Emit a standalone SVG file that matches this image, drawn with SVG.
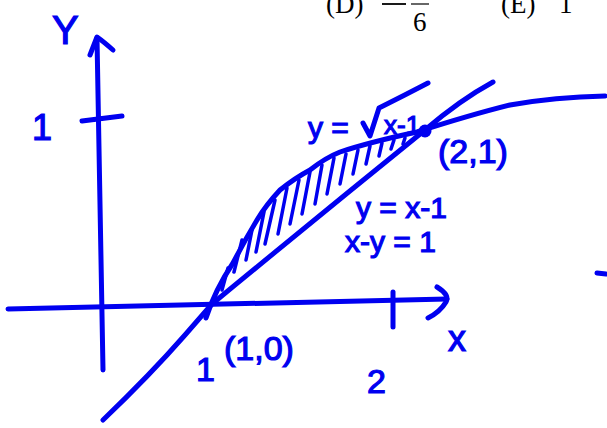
<svg xmlns="http://www.w3.org/2000/svg" width="607" height="428" viewBox="0 0 607 428">
<style>
.s{fill:none;stroke:#0000f0;stroke-width:5;stroke-linecap:round;stroke-linejoin:round}
.h{fill:none;stroke:#0000f0;stroke-width:3.5;stroke-linecap:round}
.t{font-family:"Liberation Sans","DejaVu Sans",sans-serif;fill:#0000f0;stroke:#0000f0;stroke-width:1.2}
.m{font-family:"Liberation Serif","DejaVu Serif",serif;fill:#000}
</style>
<rect width="607" height="428" fill="#fff"/>
<g id="header">
<text class="m" x="326" y="13" font-size="27">(D)</text>
<line x1="382" y1="4" x2="406" y2="4" stroke="#000" stroke-width="1.8"/>
<line x1="411" y1="4" x2="429" y2="4" stroke="#000" stroke-width="1.2"/>
<text class="m" x="413" y="31" font-size="27">6</text>
<text class="m" x="501" y="13" font-size="27">(E)</text>
<text class="m" x="559" y="13" font-size="27">1</text>
</g>
<g id="axes">
<path class="s" d="M103,370 L97,38"/>
<path class="s" d="M90,55 L97,37 Q104,42 113,50"/>
<path class="s" d="M82,121 L122,116"/>
<path class="s" d="M8,309 L447,299"/>
<path class="s" d="M437,287 Q450,295 446,302 Q440,312 428,318"/>
<path class="s" d="M393,292 L393,327"/>
<path class="s" d="M597,273 L606,274"/>
</g>
<g id="curves">
<path class="s" d="M103,420 Q150,375 185,335 L212,304 Q320,215 425,130 Q460,100 493,82"/>
<path class="s" d="M206,318 Q215,290 233,263 Q245,240 257,220 Q266,205 280,190 Q295,178 310,170 Q325,158 340,152 Q370,142 417,132 Q470,115 510,105 Q555,97 605,96"/>
<circle cx="425" cy="131" r="6.5" fill="#0000f0"/>
</g>
<g id="hatch">
<path class="h" d="M228,268 L222,290"/>
<path class="h" d="M242,240 L234,272"/>
<path class="h" d="M252,230 L246,260"/>
<path class="h" d="M264,212 L256,252"/>
<path class="h" d="M275,200 L265,244"/>
<path class="h" d="M287,188 L278,234"/>
<path class="h" d="M299,180 L290,224"/>
<path class="h" d="M310,172 L302,214"/>
<path class="h" d="M322,165 L315,204"/>
<path class="h" d="M334,158 L327,194"/>
<path class="h" d="M346,154 L340,184"/>
<path class="h" d="M358,150 L353,174"/>
<path class="h" d="M370,146 L366,164"/>
<path class="h" d="M382,143 L379,156"/>
<path class="h" d="M394,140 L391,149"/>
<path class="h" d="M405,138 L403,144"/>
</g>
<g id="labels">
<text class="t" x="52" y="44" font-size="40">Y</text>
<text class="t" x="32" y="140" font-size="36">1</text>
<text class="t" x="448" y="351" font-size="36">x</text>
<text class="t" x="196" y="381" font-size="34">1</text>
<text class="t" x="224" y="360" font-size="34">(1,0)</text>
<text class="t" x="367" y="393" font-size="34">2</text>
<text class="t" x="308" y="138" font-size="30">y =</text>
<path class="s" d="M363,123 L370,136 L379,108 Q405,95 428,83"/>
<text class="t" x="384" y="134" font-size="26">x-1</text>
<text class="t" x="438" y="163" font-size="34">(2,1)</text>
<text class="t" x="356" y="218" font-size="30">y = x-1</text>
<text class="t" x="345" y="252" font-size="30">x-y = 1</text>
</g>
</svg>
